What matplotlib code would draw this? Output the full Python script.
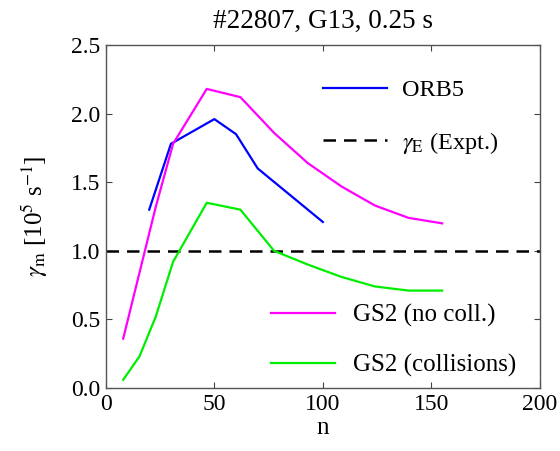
import matplotlib
matplotlib.use('Agg')
import matplotlib.pyplot as plt

# dados
n_orb5 = [20, 30, 50, 60, 70, 100]
g_orb5 = [1.30, 1.78, 1.96, 1.85, 1.60, 1.21]

n_gs2 = [8, 15.5, 23, 31, 46.5, 62, 77.5, 93, 108.5, 124, 139.5, 155]
g_nocoll = [0.36, 0.84, 1.32, 1.78, 2.18, 2.12, 1.86, 1.64, 1.47, 1.33, 1.24, 1.20]
g_coll = [0.06, 0.23, 0.52, 0.92, 1.35, 1.30, 1.00, 0.90, 0.81, 0.74, 0.71, 0.71]

gamma_e = 1.0

plt.rcParams['font.family'] = ['Liberation Serif', 'DejaVu Serif']
plt.rcParams['mathtext.fontset'] = 'stix'

fig = plt.figure(figsize=(5.6, 4.51), dpi=100)
ax = fig.add_axes([0.189, 0.1397, 0.775, 0.7605])

l_orb, = ax.plot(n_orb5, g_orb5, color='#0000ff', lw=1.6)
l_e = ax.axhline(gamma_e, color='black', lw=1.8, linestyle=(0, (5, 3.2)))
l_nc, = ax.plot(n_gs2, g_nocoll, color='#ff00ff', lw=1.6)
l_c, = ax.plot(n_gs2, g_coll, color='#00ee00', lw=1.6)

ax.set_xlim(0, 200)
ax.set_ylim(0, 2.5)
ax.set_xticks([0, 50, 100, 150, 200])
ax.set_yticks([0, 0.5, 1.0, 1.5, 2.0, 2.5])
ax.set_yticklabels(['0.0', '0.5', '1.0', '1.5', '2.0', '2.5'])
ax.tick_params(direction='in', top=True, right=True, length=4.5, width=0.8,
               labelsize=17, colors='#444444', labelcolor='black', pad=4)
for s in ax.spines.values():
    s.set_color('#555555')
    s.set_linewidth(1.0)

ax.set_xlabel('n', fontsize=18, labelpad=2)
ax.set_ylabel(r'$\gamma_{\rm m}$ [10$^5$ s$^{-1}$]', fontsize=18, labelpad=15)
ax.set_title('#22807, G13, 0.25 s', fontsize=19.5, pad=12)

leg1 = ax.legend([l_orb, l_e], ['ORB5', r'$\gamma_{\rm E}$ (Expt.)'],
                 loc='upper left', bbox_to_anchor=(0.5, 0.90), frameon=False,
                 fontsize=17.5, handlelength=2.63, handletextpad=0.62,
                 labelspacing=1.16, borderpad=0, borderaxespad=0)
ax.add_artist(leg1)
ax.legend([l_nc, l_c], ['GS2 (no coll.)', 'GS2 (collisions)'],
          loc='upper left', bbox_to_anchor=(0.38, 0.246), frameon=False,
          fontsize=18, handlelength=2.56, handletextpad=0.72,
          labelspacing=1.1, borderpad=0, borderaxespad=0)

plt.savefig('out.png', dpi=100)
